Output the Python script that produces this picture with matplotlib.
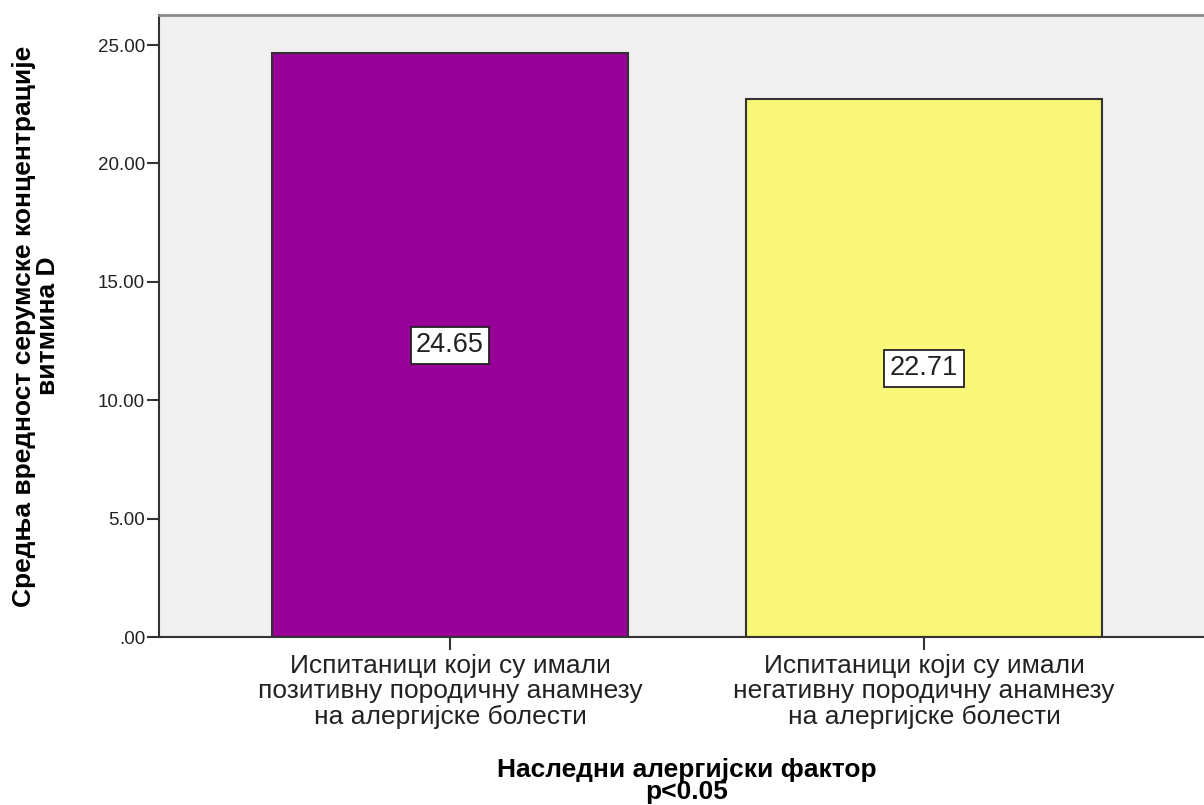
import matplotlib
matplotlib.use("Agg")
import matplotlib.pyplot as plt
from matplotlib.ticker import FuncFormatter

plt.rcParams['font.family'] = ['Liberation Sans', 'DejaVu Sans']

categories = ["Испитаници који су имали\nпозитивну породичну анамнезу\nна алергијске болести",
              "Испитаници који су имали\nнегативну породичну анамнезу\nна алергијске болести"]
values = [24.65, 22.71]
value_labels = ["24.65", "22.71"]
colors = ["#990099", "#f9f778"]
yticks = [0, 5, 10, 15, 20, 25]
ylabel = "Средња вредност серумске концентрације\nвитмина D"
xlabel = "Наследни алергијски фактор\np<0.05"

fig = plt.figure(figsize=(12.04, 8.05), dpi=100)
ax = fig.add_axes([159/1204, 1-637/805, (1215-159)/1204, (637-15)/805])
ax.set_facecolor("#f0f0f0")

x = list(range(len(categories)))
ax.bar(x, values, width=0.751, color=colors, edgecolor="#333333", linewidth=1.5, zorder=2)
for xi, v, lab in zip(x, values, value_labels):
    ax.text(xi, v/2, lab, ha="center", va="center", fontsize=19.5, color="#222222", zorder=3,
            bbox=dict(boxstyle="square,pad=0.2", facecolor="white", edgecolor="#222222", linewidth=1.3))

ax.set_xlim(-0.614, 1.614)
ax.set_ylim(0, 26.27)
ax.set_yticks(yticks)
ax.yaxis.set_major_formatter(FuncFormatter(lambda v, p: (".00" if v == 0 else f"{v:.2f}")))
ax.set_xticks(x)
ax.set_xticklabels(categories, fontsize=19, linespacing=1.08, color="#222222")
ax.tick_params(axis="y", labelsize=13.5, length=9, width=1.5, color="#333333", labelcolor="#222222", pad=1)
ax.tick_params(axis="x", length=9, width=1.5, color="#333333", pad=3)

for s in ["left", "bottom"]:
    ax.spines[s].set_color("#333333")
    ax.spines[s].set_linewidth(1.5)
ax.spines["top"].set_color("#888888")
ax.spines["top"].set_linewidth(2)
ax.spines["right"].set_visible(False)

ax.set_ylabel(ylabel, fontsize=19, fontweight="bold", linespacing=1.0, labelpad=27)
ax.set_xlabel(xlabel, fontsize=19, fontweight="bold", linespacing=0.88, labelpad=21)

fig.savefig("out.png", dpi=100)
